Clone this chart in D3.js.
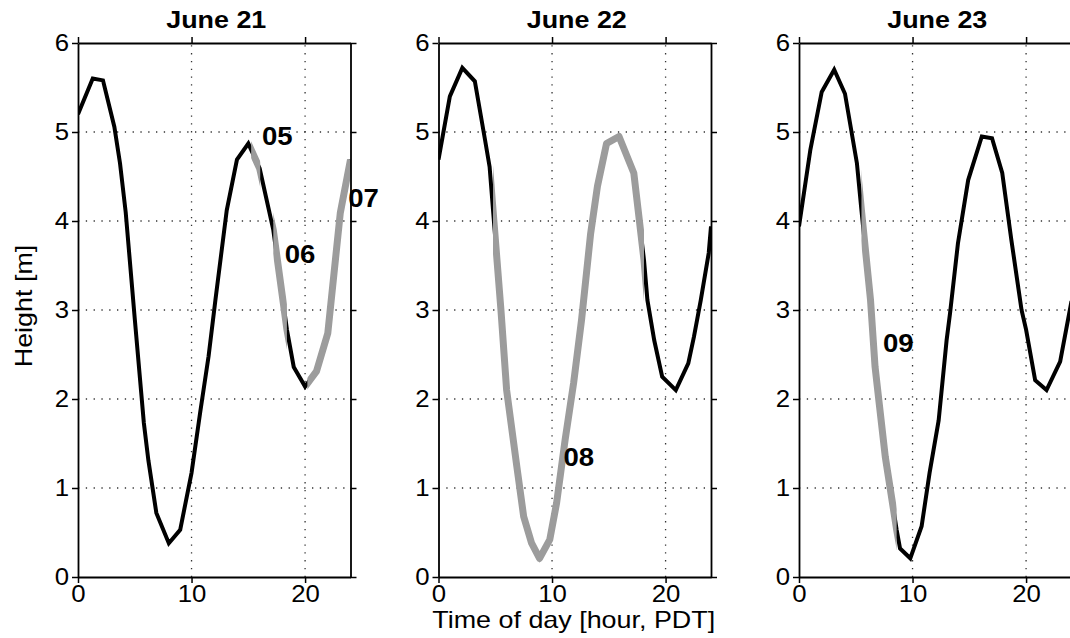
<!DOCTYPE html>
<html><head><meta charset="utf-8">
<script src="https://cdn.jsdelivr.net/npm/d3@7"></script>
<style>body{margin:0;background:#fff} text{font-family:"Liberation Sans",Arial,Helvetica,sans-serif}</style>
</head><body><svg id="c" width="1070" height="638"></svg>
<script>
// ---------- data ----------
const dayTitles = ["June 21", "June 22", "June 23"];

const times21   = [0, 1.3, 2.2, 3.2, 3.7, 4.2, 5.0, 5.8, 6.2, 6.9, 8.0, 9.0, 10.0, 10.75, 11.5, 12.1, 13.1, 14.0, 15.0, 16.0, 17.2, 18.4, 19.0, 20.0, 21.0, 22.0, 23.1, 24.0];
const heights21 = [5.2, 5.6, 5.58, 5.06, 4.65, 4.1, 2.9, 1.73, 1.31, 0.72, 0.38, 0.53, 1.17, 1.84, 2.48, 3.11, 4.12, 4.69, 4.87, 4.59, 3.9, 2.78, 2.36, 2.14, 2.31, 2.74, 4.09, 4.69];

const times22   = [0, 1.0, 2.1, 3.2, 4.1, 4.5, 5.5, 6.0, 6.9, 7.5, 8.2, 8.9, 9.8, 10.4, 11.15, 11.9, 12.6, 13.4, 14.0, 14.8, 15.9, 17.2, 18.1, 18.4, 19.0, 19.7, 20.9, 22.0, 22.5, 23.1, 23.8, 24.0];
const heights22 = [4.69, 5.4, 5.72, 5.57, 4.91, 4.61, 3.0, 2.1, 1.24, 0.68, 0.38, 0.21, 0.42, 0.83, 1.54, 2.18, 2.89, 3.86, 4.39, 4.87, 4.95, 4.54, 3.56, 3.11, 2.66, 2.25, 2.1, 2.4, 2.7, 3.11, 3.64, 3.94];

const times23   = [0, 1.0, 2.0, 3.1, 4.05, 5.1, 5.5, 6.3, 6.7, 7.1, 7.6, 8.6, 8.9, 9.8, 10.8, 11.5, 12.3, 13.0, 13.3, 14.0, 14.9, 16.1, 17.0, 17.9, 18.7, 19.6, 20.0, 20.8, 21.8, 23.0, 24.0];
const heights23 = [3.94, 4.8, 5.45, 5.7, 5.43, 4.65, 4.12, 3.11, 2.36, 1.91, 1.35, 0.53, 0.32, 0.21, 0.57, 1.17, 1.76, 2.66, 2.96, 3.75, 4.46, 4.95, 4.93, 4.54, 3.79, 3.0, 2.78, 2.21, 2.1, 2.42, 3.1];

// highlighted (grey) stretches of the record, with their labels
const segLabels   = ["05", "06", "07", "08", "09"];
const segDay      = [0, 0, 0, 1, 2];
const segStart    = [15.25, 17.2, 20.2, 4.8, 5.5];
const segEnd      = [16.05, 18.4, 24.0, 18.1, 8.6];
const labelTime   = [16.2, 18.2, 23.8, 11.0, 7.4];
const labelHeight = [4.85, 3.53, 4.16, 1.25, 2.53];

const xTicks = [0, 10, 20];
const yTicks = [0, 1, 2, 3, 4, 5, 6];
const xLabel = "Time of day [hour, PDT]";
const yLabel = "Height [m]";

// ---------- layout ----------
const plotTop = 43, plotBottom = 577, panelW = 272.5, left0 = 78, step = 360.5;
const STRETCH = 1.12;

const series = [
  {t: times21, h: heights21},
  {t: times22, h: heights22},
  {t: times23, h: heights23}
];

const svg = d3.select("#c");
const defs = svg.append("defs");
const y = d3.scaleLinear().domain([0, 6]).range([plotBottom, plotTop]);

function stretch(sel, k) {
  sel.each(function () {
    const L = this.getComputedTextLength();
    d3.select(this).attr("textLength", L * k).attr("lengthAdjust", "spacingAndGlyphs");
  });
}

series.forEach((s, i) => {
  const x0 = left0 + i * step;
  const x = d3.scaleLinear().domain([0, 24]).range([x0, x0 + panelW]);
  const pts = s.t.map((t, k) => [t, s.h[k]]);
  const line = d3.line().x(d => x(d[0])).y(d => y(d[1]));
  const g = svg.append("g");

  // grid
  g.selectAll(".gx").data(xTicks.filter(d => d > 0)).join("line")
    .attr("x1", d => x(d)).attr("x2", d => x(d)).attr("y1", y(0)).attr("y2", y(6))
    .attr("stroke", "#333").attr("stroke-width", 1.3).attr("stroke-dasharray", "1.3,6.5");
  g.selectAll(".gy").data(yTicks.filter(d => d > 0 && d < 6)).join("line")
    .attr("y1", d => y(d)).attr("y2", d => y(d)).attr("x1", x(0)).attr("x2", x(24))
    .attr("stroke", "#333").attr("stroke-width", 1.3).attr("stroke-dasharray", "1.3,6.5");

  // clip for panel
  const cid = "panel" + i;
  defs.append("clipPath").attr("id", cid).append("rect")
    .attr("x", x(0)).attr("y", y(6) - 10).attr("width", x(24) - x(0)).attr("height", y(0) - y(6) + 10);

  g.append("path").datum(pts).attr("d", line).attr("clip-path", `url(#${cid})`)
    .attr("fill", "none").attr("stroke", "#000").attr("stroke-width", 4)
    .attr("stroke-linejoin", "miter");

  // grey highlighted segments
  segLabels.forEach((lab, j) => {
    if (segDay[j] !== i) return;
    const sid = "seg" + j;
    defs.append("clipPath").attr("id", sid).append("rect")
      .attr("x", x(segStart[j])).attr("y", y(6)).attr("width", x(Math.min(segEnd[j], 24)) - x(segStart[j]))
      .attr("height", y(0) - y(6));
    g.append("path").datum(pts).attr("d", line).attr("clip-path", `url(#${sid})`)
      .attr("fill", "none").attr("stroke", "#9c9c9c").attr("stroke-width", 7)
      .attr("stroke-linejoin", "round");
  });

  // axes (box with outward ticks)
  const axL = g.append("g").attr("transform", `translate(${x(0)},0)`)
    .call(d3.axisLeft(y).tickValues(yTicks).tickSize(6).tickSizeOuter(0).tickPadding(3).tickFormat(d3.format("d")));
  const axB = g.append("g").attr("transform", `translate(0,${y(0)})`)
    .call(d3.axisBottom(x).tickValues(xTicks).tickSize(6).tickSizeOuter(0).tickPadding(2).tickFormat(d3.format("d")));
  const axR = g.append("g").attr("transform", `translate(${x(24)},0)`)
    .call(d3.axisRight(y).tickValues(yTicks).tickSize(6).tickSizeOuter(0).tickFormat(""));
  const axT = g.append("g").attr("transform", `translate(0,${y(6)})`)
    .call(d3.axisTop(x).tickValues(xTicks).tickSize(6).tickSizeOuter(0).tickFormat(""));
  [axL, axB, axR, axT].forEach(a => {
    a.select(".domain").attr("stroke", "#000").attr("stroke-width", 1.8);
    a.selectAll(".tick line").attr("stroke", "#000").attr("stroke-width", 1.5);
    a.selectAll("text").attr("fill", "#000").style("font-size", "23px")
      .style("font-family", '"Liberation Sans", Arial, sans-serif');
  });
  axB.selectAll(".tick text").attr("dy", "0.74em");
  axL.selectAll(".tick text").attr("dy", "0.34em");
  stretch(axL.selectAll(".tick text"), STRETCH);
  stretch(axB.selectAll(".tick text"), STRETCH);

  // title
  const tt = g.append("text").attr("x", (x(0) + x(24)) / 2 + 2).attr("y", 28)
    .attr("text-anchor", "middle").style("font-size", "24px").style("font-weight", "bold")
    .text(dayTitles[i]);
  stretch(tt, STRETCH);

  // segment labels
  segLabels.forEach((lab, j) => {
    if (segDay[j] !== i) return;
    const lt = g.append("text").attr("x", x(labelTime[j])).attr("y", y(labelHeight[j]))
      .style("font-size", "26px").style("font-weight", "bold").text(lab);
    stretch(lt, 1.06);
  });

  if (i === 1) {
    const xl = g.append("text").attr("x", (x(0) + x(24)) / 2 - 1).attr("y", 628)
      .attr("text-anchor", "middle").style("font-size", "24px").text(xLabel);
    stretch(xl, STRETCH);
  }
});

const yl = svg.append("text").attr("transform", "translate(32,306) rotate(-90)")
  .attr("text-anchor", "middle").style("font-size", "24px").text(yLabel);
stretch(yl, STRETCH);
</script>
</body></html>
